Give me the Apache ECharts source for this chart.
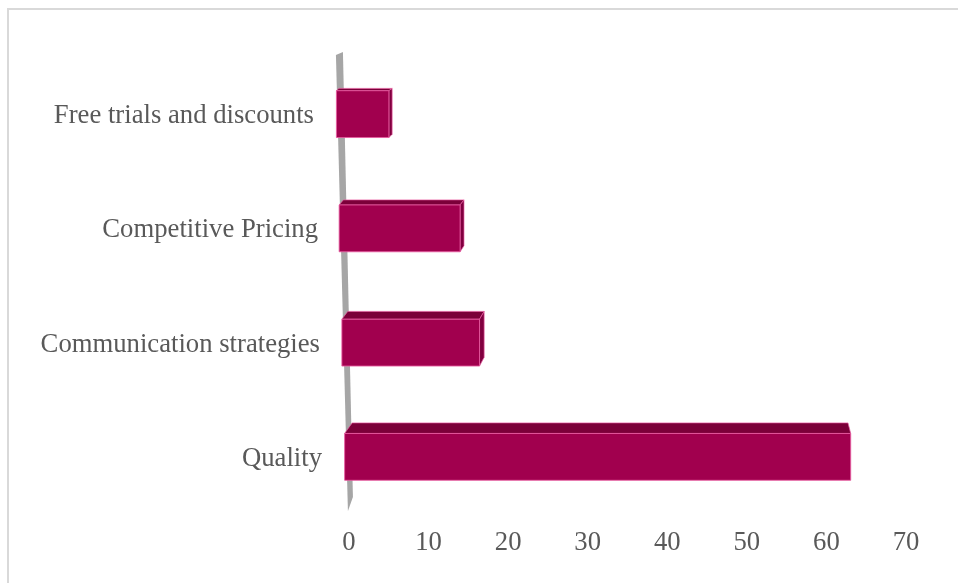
<!DOCTYPE html>
<html>
<head>
<meta charset="utf-8">
<script src="https://cdn.jsdelivr.net/npm/echarts@6/dist/echarts.min.js"></script>
<style>
  html, body { margin: 0; padding: 0; background: #ffffff; }
  #chart { width: 958px; height: 583px; }
</style>
</head>
<body>
<div id="chart"></div>
<script>
// Categories, top to bottom
const categories = ['Free trials and discounts', 'Competitive Pricing', 'Communication strategies', 'Quality'];
// Bar values
const values = [6.6, 15.2, 17.3, 63.6];
// Value-axis tick labels
const xTicks = [0, 10, 20, 30, 40, 50, 60, 70];

const FONT = '"Liberation Serif", "Times New Roman", serif';
const TEXT_GRAY = '#595959';
const FONT_SIZE = 26.7;

// Slant of the 3D wall / bar bases (px shift per px of height)
const LEAN = 0.024;

function wallLeftAt(y, rect) {
  const bottom = rect.y + rect.height;
  return rect.x - 2 - (bottom - y) * LEAN;
}

// Back wall drawn as a slanted grey slab along the category axis
function renderWall(params, api) {
  const r = params.coordSys;
  const top = r.y - 4;
  const bot = r.y + r.height - 3;
  const lt = wallLeftAt(top, r);
  const lb = wallLeftAt(bot, r);
  return {
    type: 'polygon',
    shape: {
      points: [
        [lt, top + 2],
        [lt + 7, top - 1],
        [lb + 6, bot - 14],
        [lb + 1, bot]
      ]
    },
    style: { fill: '#a6a6a6' }
  };
}

// 3D-looking horizontal bar: front face, top face, and right face when visible
function renderBar(params, api) {
  const r = params.coordSys;
  const idx = api.value(0);
  const val = api.value(1);
  const zero = api.coord([0, idx]);
  const end = api.coord([val, idx]);
  const band = api.size([0, 1])[1];
  const h = band * 0.41;
  const cy = zero[1];
  const xL = wallLeftAt(cy, r) - 1;
  const xR = xL + (end[0] - zero[0]);
  const yT = cy - h / 2;
  const yB = cy + h / 2;

  // depth offset grows towards the bottom of the plot
  const dy = 2.3 + (yT - r.y - 33) * 0.024;
  const vx = r.x + r.width * 0.52;
  const a = dy * 0.0021;
  const dxL = (vx - xL) * a + 1;
  const dxR = (vx - xR) * a + 2;

  const edge = 'rgba(232,90,160,0.85)';
  const children = [];
  // top face
  children.push({
    type: 'polygon',
    shape: { points: [[xL, yT], [xR, yT], [xR + dxR, yT - dy], [xL + dxL, yT - dy]] },
    style: { fill: '#7b0039', stroke: edge, lineWidth: 0.8 }
  });
  // right face
  if (dxR > 0) {
    children.push({
      type: 'polygon',
      shape: { points: [[xR, yT], [xR + dxR, yT - dy], [xR + dxR, yB - dy - 1], [xR, yB]] },
      style: { fill: '#80003f', stroke: edge, lineWidth: 0.8 }
    });
  }
  // front face
  children.push({
    type: 'rect',
    shape: { x: xL, y: yT, width: xR - xL, height: yB - yT },
    style: { fill: '#a1004e', stroke: edge, lineWidth: 1 }
  });
  return { type: 'group', children: children };
}

const barData = values.map((v, i) => [i, v]);

const labelRich = {};
const labelPad = [8, 4, 2, 0];
labelPad.forEach((p, i) => {
  labelRich['r' + i] = { fontFamily: FONT, fontSize: FONT_SIZE, color: TEXT_GRAY, padding: [4, p, 0, 0] };
});

const chart = echarts.init(document.getElementById('chart'), null, { renderer: 'canvas' });
chart.setOption({
  backgroundColor: '#ffffff',
  animation: false,
  graphic: [{
    type: 'rect',
    shape: { x: 8, y: 9, width: 1200, height: 1200 },
    style: { fill: 'none', stroke: '#d9d9d9', lineWidth: 2 },
    silent: true,
    z: -10
  }],
  grid: { left: 349, right: 52, top: 57, bottom: 69, containLabel: false },
  xAxis: {
    type: 'value',
    min: xTicks[0],
    max: xTicks[xTicks.length - 1],
    interval: xTicks[1] - xTicks[0],
    axisLine: { show: false },
    axisTick: { show: false },
    splitLine: { show: false },
    axisLabel: {
      margin: 15,
      fontFamily: FONT,
      fontSize: FONT_SIZE,
      color: TEXT_GRAY,
      formatter: (v) => String(v)
    }
  },
  yAxis: {
    type: 'category',
    data: categories,
    inverse: true,
    axisLine: { show: false },
    axisTick: { show: false },
    splitLine: { show: false },
    axisLabel: {
      margin: 27,
      fontFamily: FONT,
      fontSize: FONT_SIZE,
      color: TEXT_GRAY,
      formatter: (v, i) => '{r' + i + '|' + v + '}',
      rich: labelRich
    }
  },
  series: [
    {
      type: 'custom',
      name: 'wall',
      renderItem: renderWall,
      data: [[0, 0]],
      encode: { x: 1, y: 0 },
      silent: true,
      z: 1
    },
    {
      type: 'custom',
      name: 'Responses',
      renderItem: renderBar,
      data: barData,
      encode: { x: 1, y: 0 },
      z: 2
    }
  ]
});
</script>
</body>
</html>
